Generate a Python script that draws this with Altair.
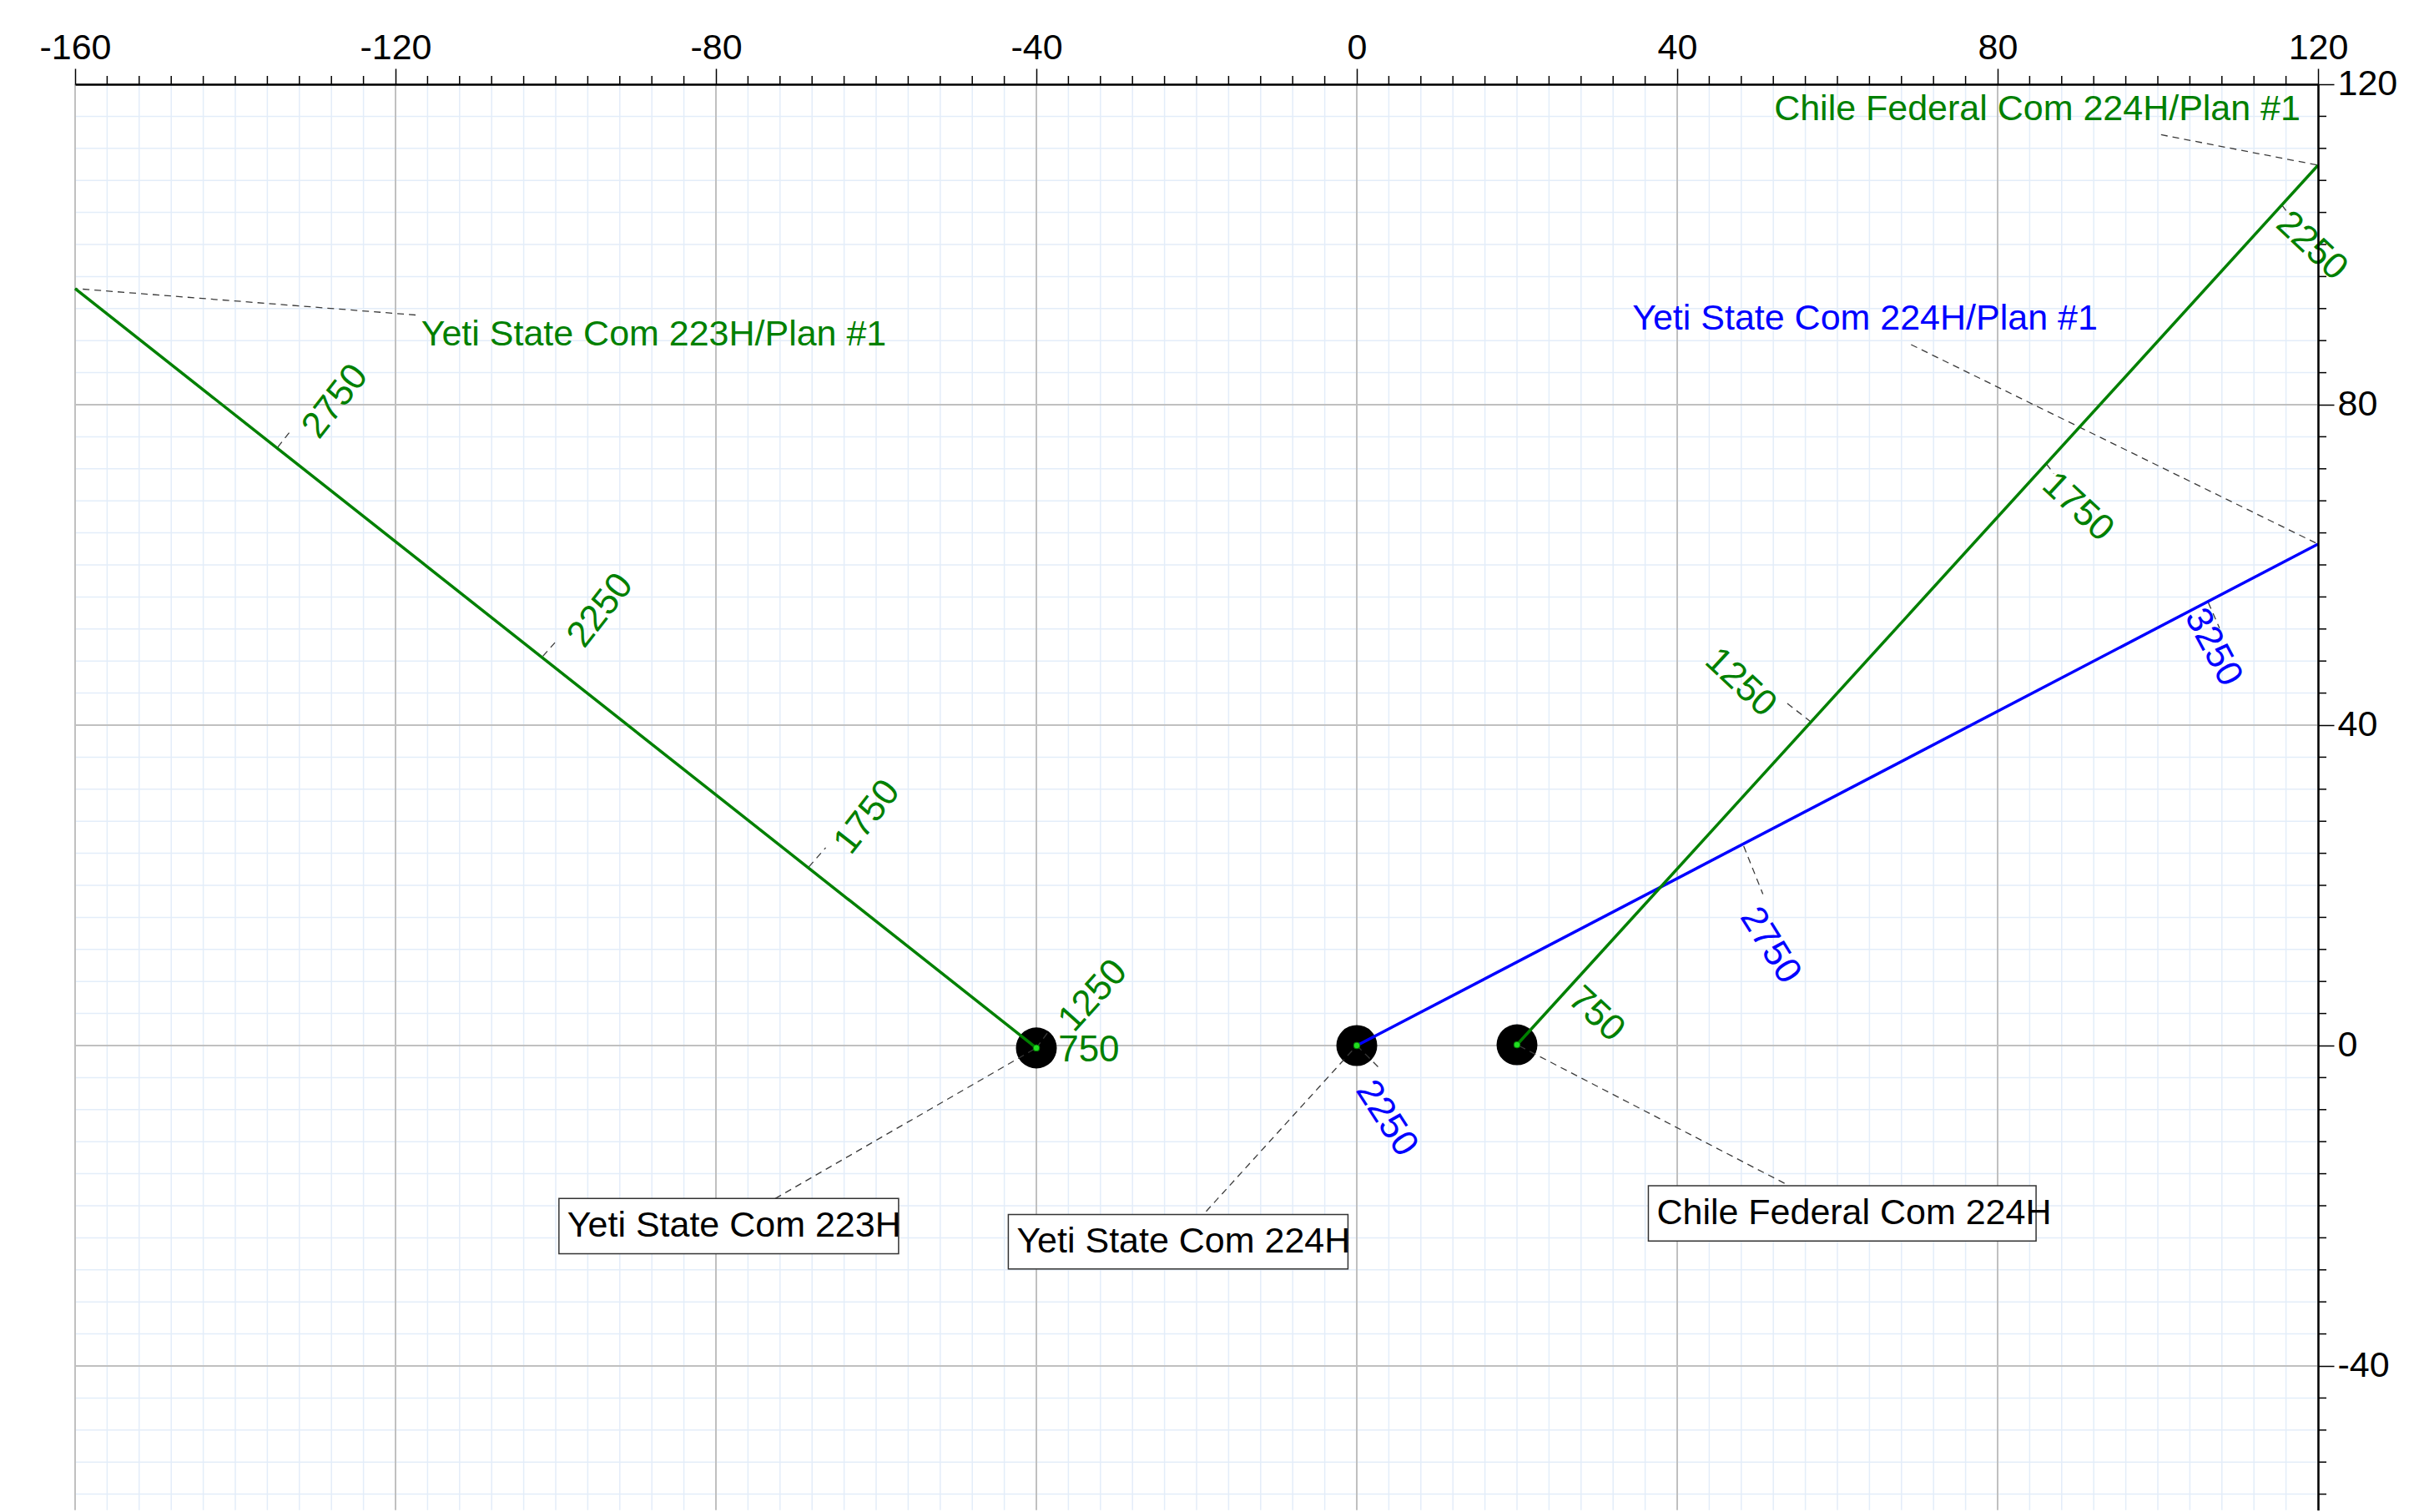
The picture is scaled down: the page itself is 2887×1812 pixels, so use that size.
import altair as alt
import pandas as pd

# ---------------- axes / grid ----------------
X_MIN, X_MAX = -160, 120
Y_MIN, Y_MAX = -58, 120
major_x = [-160, -120, -80, -40, 0, 40, 80, 120]
major_y = [-40, 0, 40, 80, 120]
minor_x = [v for v in range(-160, 121, 4) if v % 40 != 0]
minor_y = [v for v in range(-56, 121, 4) if v % 40 != 0]

PX_PER_UNIT = 9.6
PLOT_W = (X_MAX - X_MIN) * PX_PER_UNIT
PLOT_H = (Y_MAX - Y_MIN) * PX_PER_UNIT

# ---------------- wells (plan view) ----------------
well_names = ["Yeti State Com 223H", "Yeti State Com 224H", "Chile Federal Com 224H"]
well_colors = ["#008000", "#0000ff", "#008000"]
surface_x = [-40.0, 0.0, 20.0]
surface_y = [-0.3, 0.0, 0.1]
end_x = [-160.0, 120.0, 120.0]
end_y = [94.5, 62.6, 109.9]

# surface-location label boxes
box_left = [-99.6, -43.5, 36.4]
box_right = [-57.2, -1.1, 84.8]
box_top = [-19.1, -21.1, -17.5]
box_bottom = [-26.0, -27.9, -24.4]
box_leader_x = [-72.6, -18.8, 53.4]
box_leader_y = [-19.1, -20.7, -17.2]

# plan labels at the end of each path
plan_text = ["Yeti State Com 223H/Plan #1", "Yeti State Com 224H/Plan #1",
             "Chile Federal Com 224H/Plan #1"]
plan_x = [-116.8, 34.4, 52.1]
plan_y = [88.7, 90.7, 116.9]
plan_leader_x = [-117.5, 69.2, 100.4]
plan_leader_y = [91.2, 87.5, 113.7]

# measured-depth markers along each path
depth_well = [0, 0, 0, 0, 0, 1, 1, 1, 2, 2, 2, 2]
depth_md = ["750", "1250", "1750", "2250", "2750",
            "2250", "2750", "3250",
            "750", "1250", "1750", "2250"]
depth_anchor_x = [-40.0, -40.0, -68.4, -101.6, -134.7, 0.0, 48.3, 106.3, 27.3, 56.7, 86.1, 115.5]
depth_anchor_y = [-0.3, -0.3, 22.3, 48.6, 74.7, 0.0, 24.9, 55.3, 8.1, 40.4, 72.6, 104.9]
depth_tick_x = [-40.0, -38.3, -66.3, -100.1, -133.2, 3.0, 50.7, 107.7, 27.3, 53.5, 87.0, 116.4]
depth_tick_y = [-0.3, 2.0, 24.7, 50.3, 76.6, -3.0, 18.9, 52.1, 8.1, 42.9, 71.4, 103.7]
depth_text_x = [-33.45, -32.9, -61.1, -94.4, -127.5, 3.7, 51.6, 106.9, 29.9, 47.9, 90.0, 119.2]
depth_text_y = [-0.6, 6.2, 28.5, 54.3, 80.4, -9.1, 12.5, 49.7, 3.9, 45.3, 67.2, 99.8]
depth_angle = [0, 312, 308, 308, 308, 57, 58, 62, 43, 43, 43, 43]

FONT = "Liberation Sans"
FONT_SIZE = 43

# ---------------- tables ----------------
paths = pd.DataFrame(
    [{"well": well_names[i], "px": surface_x[i], "py": surface_y[i], "ord": 0} for i in range(3)]
    + [{"well": well_names[i], "px": end_x[i], "py": end_y[i], "ord": 1} for i in range(3)]
)
surface = pd.DataFrame({"well": well_names, "sx": surface_x, "sy": surface_y})
boxes = pd.DataFrame({
    "well": well_names, "bl": box_left, "br": box_right, "bt": box_top, "bb": box_bottom,
    "bm": [(t + b) / 2 for t, b in zip(box_top, box_bottom)],
})
plans = pd.DataFrame({"well": well_names, "label": plan_text, "lx": plan_x, "ly": plan_y})
depths = pd.DataFrame({
    "well": [well_names[i] for i in depth_well], "md": depth_md,
    "tx": depth_text_x, "ty": depth_text_y, "angle": depth_angle,
})

leader_rows = []
for i in range(3):
    leader_rows.append({"x1": box_leader_x[i], "y1": box_leader_y[i], "x2": surface_x[i], "y2": surface_y[i]})
    leader_rows.append({"x1": plan_leader_x[i], "y1": plan_leader_y[i], "x2": end_x[i], "y2": end_y[i]})
for k in range(len(depth_md)):
    leader_rows.append({"x1": depth_anchor_x[k], "y1": depth_anchor_y[k],
                        "x2": depth_tick_x[k], "y2": depth_tick_y[k]})
leaders = pd.DataFrame(leader_rows)

gx_minor = pd.DataFrame({"gx": minor_x})
gy_minor = pd.DataFrame({"gy": minor_y})
gx_major = pd.DataFrame({"gx": major_x})
gy_major = pd.DataFrame({"gy": major_y})

# ---------------- scales and axes ----------------
xs = alt.Scale(domain=[X_MIN, X_MAX], nice=False, zero=False)
ys = alt.Scale(domain=[Y_MIN, Y_MAX], nice=False, zero=False)
x_axis = alt.Axis(orient="top", values=major_x, title="", grid=False,
                  tickSize=19, tickWidth=1.5, tickColor="black",
                  domainColor="black", domainWidth=2.5,
                  labelFont=FONT, labelFontSize=FONT_SIZE, labelColor="black",
                  labelPadding=2, labelFlush=False, labelOverlap=False,
                  labelExpr="'' + datum.value", zindex=1)
y_axis = alt.Axis(orient="right", values=major_y, title="", grid=False,
                  tickSize=19, tickWidth=1.5, tickColor="black",
                  domainColor="black", domainWidth=2.5,
                  labelFont=FONT, labelFontSize=FONT_SIZE, labelColor="black",
                  labelPadding=4, labelFlush=False, labelOverlap=False,
                  labelExpr="'' + datum.value", zindex=1)


def X(f):
    return alt.X(f"{f}:Q", scale=xs, axis=x_axis)


def Y(f):
    return alt.Y(f"{f}:Q", scale=ys, axis=y_axis)


well_color = alt.Color("well:N", scale=alt.Scale(domain=well_names, range=well_colors), legend=None)

# ---------------- layers ----------------
minor_grid_x = alt.Chart(gx_minor).mark_rule(color="#e3edf9", strokeWidth=1.5).encode(x=X("gx"))
minor_grid_y = alt.Chart(gy_minor).mark_rule(color="#e3edf9", strokeWidth=1.5).encode(y=Y("gy"))
major_grid_x = alt.Chart(gx_major).mark_rule(color="#c0c0c0", strokeWidth=2).encode(x=X("gx"))
major_grid_y = alt.Chart(gy_major).mark_rule(color="#c0c0c0", strokeWidth=2).encode(y=Y("gy"))

minor_tick_top = alt.Chart(gx_minor).mark_rule(color="black", strokeWidth=1.5).encode(
    x=X("gx"), y=alt.value(0), y2=alt.value(-10))
minor_tick_right = alt.Chart(gy_minor).mark_rule(color="black", strokeWidth=1.5).encode(
    y=Y("gy"), x=alt.value(PLOT_W), x2=alt.value(PLOT_W + 10))

leader_lines = alt.Chart(leaders).mark_rule(color="#3a3a3a", strokeWidth=1.3, strokeDash=[8, 6]).encode(
    x=X("x1"), y=Y("y1"), x2="x2:Q", y2="y2:Q")

# symbol size: circle diameter = sqrt(size) pixels
well_dots = alt.Chart(surface).mark_circle(size=2400, color="black", opacity=1).encode(
    x=X("sx"), y=Y("sy"))

well_paths = alt.Chart(paths).mark_line(strokeWidth=3.5).encode(
    x=X("px"), y=Y("py"), color=well_color, detail="well:N", order="ord:Q")

centre_dots = alt.Chart(surface).mark_circle(size=60, color="#22dd22", opacity=1,
                                              stroke="#007700", strokeWidth=1).encode(
    x=X("sx"), y=Y("sy"))

plan_labels = alt.Chart(plans).mark_text(font=FONT, fontSize=FONT_SIZE, align="left", baseline="middle").encode(
    x=X("lx"), y=Y("ly"), text="label:N", color=well_color)

depth_labels = alt.Chart(depths).mark_text(font=FONT, fontSize=44, align="center", baseline="middle").encode(
    x=X("tx"), y=Y("ty"), text="md:N", color=well_color, angle=alt.Angle("angle:Q", scale=None))

box_rects = alt.Chart(boxes).mark_rect(fill="white", stroke="#333333", strokeWidth=1.5).encode(
    x=X("bl"), x2="br:Q", y=Y("bt"), y2="bb:Q")

box_labels = alt.Chart(boxes).mark_text(font=FONT, fontSize=FONT_SIZE, align="left", baseline="middle",
                                        color="black", dx=10).encode(
    x=X("bl"), y=Y("bm"), text="well:N")

chart = alt.layer(
    minor_grid_x, minor_grid_y, major_grid_x, major_grid_y,
    minor_tick_top, minor_tick_right,
    well_dots, leader_lines, well_paths, centre_dots,
    plan_labels, depth_labels, box_rects, box_labels,
).properties(
    width=PLOT_W, height=PLOT_H,
    autosize=alt.AutoSizeParams(type="none"),
    padding={"left": 90, "top": 101, "right": 108, "bottom": 2},
    background="white",
).configure_view(strokeWidth=0)

chart.save("out.html", embed_options={"renderer": "svg", "actions": False})
